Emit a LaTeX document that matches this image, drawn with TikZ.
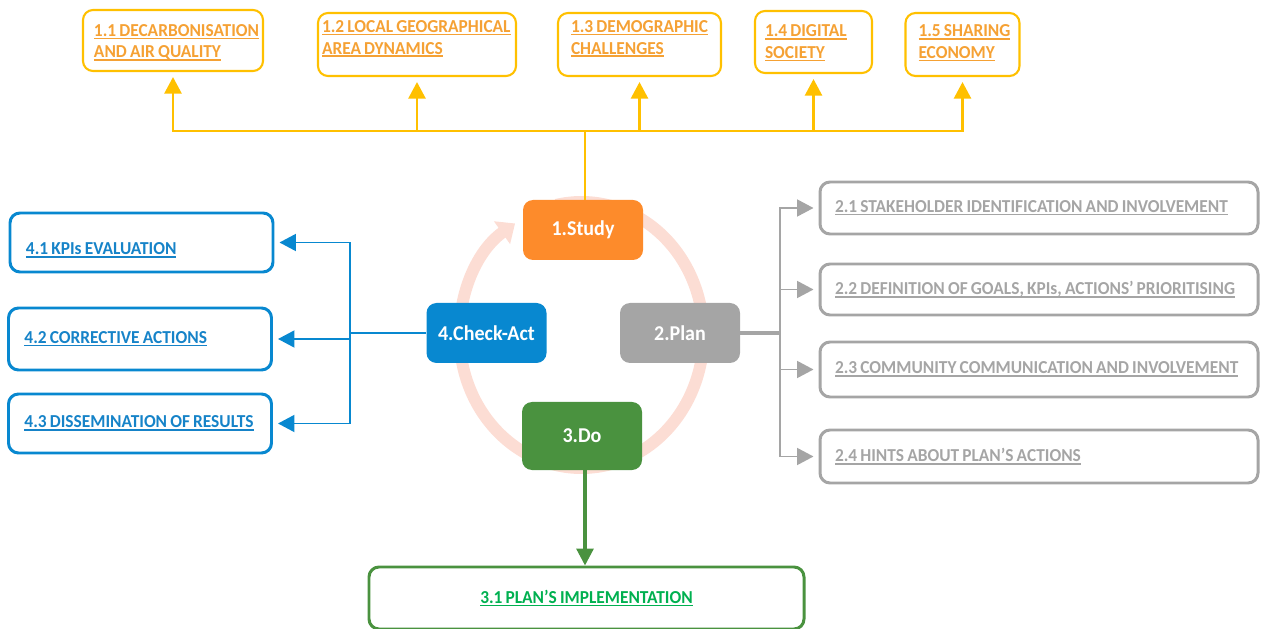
\documentclass[tikz,border=0pt]{standalone}
\usepackage{fontspec}
\setmainfont[FakeStretch=0.95, WordSpace=0.8]{Carlito}
\usetikzlibrary{arrows.meta}
\definecolor{ylw}{HTML}{FFC000}
\definecolor{orgtxt}{HTML}{F5A134}
\definecolor{studyc}{HTML}{FD8B2B}
\definecolor{grey}{HTML}{A5A5A5}
\definecolor{doc}{HTML}{4A923F}
\definecolor{grntxt}{HTML}{00B050}
\definecolor{bluec}{HTML}{0888D0}
\definecolor{bluetxt}{HTML}{1683C8}
\definecolor{ringc}{HTML}{FCDDD4}
% underlined link text
\newcommand{\lnk}[1]{\leavevmode\sbox0{\spaceskip=0pt\xspaceskip=0pt #1}\rlap{\rule[-1.7pt]{\wd0}{0.9pt}}\usebox0}
\tikzset{
  stage/.style={rounded corners=2mm, text=white, font=\bfseries\fontsize{12}{14}\selectfont,
    minimum width=24mm, minimum height=12mm, inner sep=0pt},
  topbox/.style={draw=ylw, line width=1.2pt, rounded corners=2mm, text=orgtxt, align=left,
    font=\bfseries\fontsize{10.4}{12.4}\selectfont, inner ysep=1pt},
  greybox/.style={draw=grey, line width=1.7pt, rounded corners=2mm, text=grey, align=left,
    font=\bfseries\fontsize{10.4}{12.2}\selectfont, minimum width=87.6mm, text width=81.6mm, inner xsep=3mm},
  bluebox/.style={draw=bluec, line width=1.7pt, rounded corners=2mm, text=bluetxt, align=left,
    font=\bfseries\fontsize{10.4}{12.2}\selectfont, minimum width=52.6mm, text width=46.2mm, inner xsep=3.2mm},
  tip/.style={-{Triangle[length=3.3mm,width=3.4mm]}},
}
\begin{document}
\begin{tikzpicture}[x=0.2mm, y=-0.2mm]
  \useasboundingbox (0,0) rectangle (1263,629);
  % cycle ring
  \coordinate (ring) at (581.5,335);
  \draw[ringc, line width=6.8pt, -{Triangle[length=3.2mm,width=5.4mm]}]
    ([shift={(-462:122 and 133)}]ring) arc[start angle=-462, end angle=-123, x radius=122, y radius=133];

  \node[stage, fill=studyc] (study) at (583,230)   {1.Study};
  \node[stage, fill=grey]   (plan)  at (680,333)   {2.Plan};
  \node[stage, fill=doc, minimum height=13.6mm] (do) at (582,436) {3.Do};
  \node[stage, fill=bluec]  (check) at (486.5,333) {4.Check-Act};

  \node[topbox, minimum width=36mm,   minimum height=12.2mm, inner xsep=2.2mm, text width=31.6mm, text depth=11.7pt] (b11) at (173,40.5)   {\lnk{1.1 DECARBONISATION}\\\lnk{AND AIR QUALITY}};
  \node[topbox, minimum width=39.6mm, minimum height=12.6mm, inner xsep=0.8mm, text width=38mm,   text depth=20.8pt] (b12) at (417,44.5)   {\lnk{1.2 LOCAL GEOGRAPHICAL}\\\lnk{AREA DYNAMICS}};
  \node[topbox, minimum width=32.6mm, minimum height=12.6mm, inner xsep=2.6mm, text width=27.4mm, text depth=20.8pt] (b13) at (639.5,44.5) {\lnk{1.3 DEMOGRAPHIC}\\\lnk{CHALLENGES}};
  \node[topbox, minimum width=23.4mm, minimum height=12.4mm, inner xsep=2mm,   text width=19.4mm, text depth=12.9pt] (b14) at (813.5,42)   {\lnk{1.4 DIGITAL}\\\lnk{SOCIETY}};
  \node[topbox, minimum width=22.8mm, minimum height=12.6mm, inner xsep=2.6mm, text width=17.6mm, text depth=15.7pt] (b15) at (962.5,44.5) {\lnk{1.5 SHARING}\\\lnk{ECONOMY}};

  \node[greybox, minimum height=10.4mm] (b21) at (1039,208)   {\lnk{2.1 STAKEHOLDER IDENTIFICATION AND INVOLVEMENT}};
  \node[greybox, minimum height=10.2mm] (b22) at (1039,289.5) {\lnk{2.2 DEFINITION OF GOALS, KPIs, ACTIONS’ PRIORITISING}};
  \node[greybox, minimum height=11mm]   (b23) at (1039,369.5) {\lnk{2.3 COMMUNITY COMMUNICATION AND INVOLVEMENT}};
  \node[greybox, minimum height=10.6mm] (b24) at (1039,456.5) {\lnk{2.4 HINTS ABOUT PLAN’S ACTIONS}};

  \node[draw=doc, line width=1.7pt, rounded corners=2mm, text=grntxt, font=\bfseries\fontsize{10.4}{12.2}\selectfont,
    minimum width=87mm, minimum height=12.4mm] (b31) at (586.5,598) {\lnk{3.1 PLAN’S IMPLEMENTATION}};

  \node[bluebox, minimum height=11.8mm, text height=15.5pt] (b41) at (141.5,242.5) {\lnk{4.1 KPIs EVALUATION}};
  \node[bluebox, minimum height=12.4mm] (b42) at (140,339)     {\lnk{4.2 CORRECTIVE ACTIONS}};
  \node[bluebox, minimum height=11.8mm] (b43) at (140,423.5)   {\lnk{4.3 DISSEMINATION OF RESULTS}};

  % study -> topics
  \coordinate (hub) at (585,131);
  \draw[ylw, line width=1.3pt] (study.north -| hub) -- (hub);
  \foreach \b in {b11,b12,b13,b14,b15}
    \draw[ylw, line width=1.3pt, tip] (hub) -| ([yshift=-1mm]\b.south);

  % plan -> steps
  \coordinate (pjoin) at (780,333);
  \draw[grey, line width=1.8pt] (plan.east) -- (pjoin);
  \foreach \b in {b21,b22,b23,b24}
    \draw[grey, line width=1.1pt, tip] (pjoin) |- ([xshift=-1mm]\b.west);

  % do -> implementation
  \draw[doc, line width=1.8pt, -{Triangle[length=3.4mm,width=3.4mm]}] (do.south -| 585,0) -- (b31.north -| 585,0);

  % check-act -> steps
  \coordinate (cjoin) at (350,333);
  \draw[bluec, line width=1.6pt] (check.west) -- (cjoin);
  \foreach \b in {b41,b42,b43}
    \draw[bluec, line width=1.1pt, tip] (cjoin) |- ([xshift=1mm]\b.east);
\end{tikzpicture}
\end{document}
